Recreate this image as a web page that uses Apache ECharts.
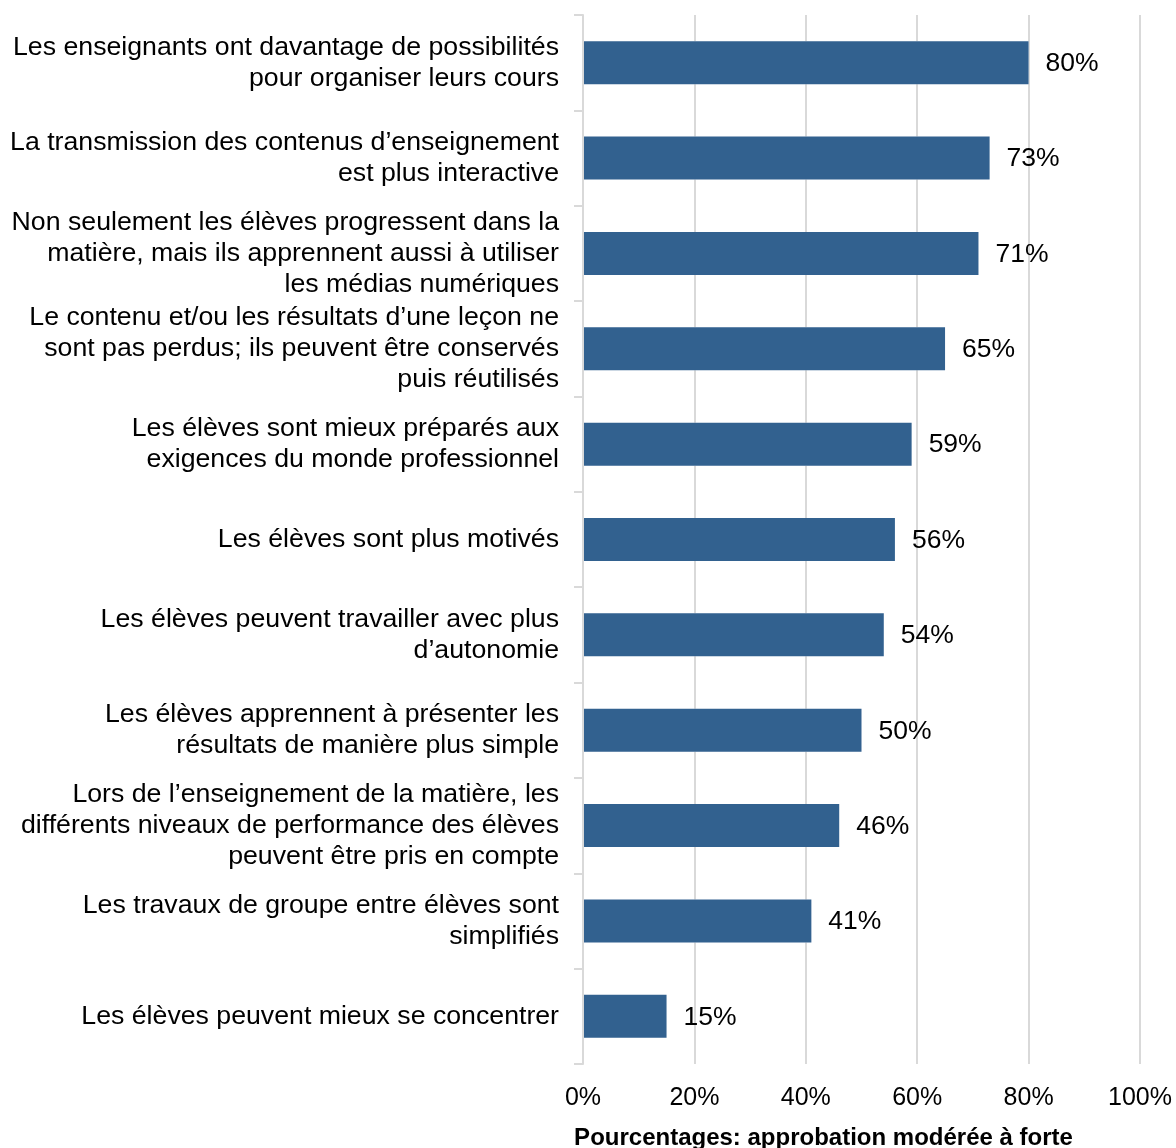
<!DOCTYPE html>
<html lang="fr">
<head>
<meta charset="utf-8">
<title>Avantages des médias numériques en classe</title>
<script src="https://cdn.jsdelivr.net/npm/echarts@6/dist/echarts.min.js"></script>
<style>
  html, body { margin: 0; padding: 0; background: #fff; }
  #chart { width: 1176px; height: 1148px; }
</style>
</head>
<body>
<div id="chart"></div>
<script>
// Affirmations proposées aux enseignants (de haut en bas)
const categories = [
  'Les enseignants ont davantage de possibilités\npour organiser leurs cours',
  'La transmission des contenus d’enseignement\nest plus interactive',
  'Non seulement les élèves progressent dans la\nmatière, mais ils apprennent aussi à utiliser\nles médias numériques',
  'Le contenu et/ou les résultats d’une leçon ne\nsont pas perdus; ils peuvent être conservés\npuis réutilisés',
  'Les élèves sont mieux préparés aux\nexigences du monde professionnel',
  'Les élèves sont plus motivés',
  'Les élèves peuvent travailler avec plus\nd’autonomie',
  'Les élèves apprennent à présenter les\nrésultats de manière plus simple',
  'Lors de l’enseignement de la matière, les\ndifférents niveaux de performance des élèves\npeuvent être pris en compte',
  'Les travaux de groupe entre élèves sont\nsimplifiés',
  'Les élèves peuvent mieux se concentrer'
];

// Part d'approbation modérée à forte, en %
const approval = [80, 73, 71, 65, 59, 56, 54, 50, 46, 41, 15];

// Graduations de l'axe horizontal
const axisMin = 0;
const axisMax = 100;
const axisStep = 20;
const axisTitle = 'Pourcentages: approbation modérée à forte';

const FONT = "'Liberation Sans', Arial, Helvetica, sans-serif";
const GRID_GREY = '#d9d9d9';
const BAR_BLUE = '#32618f';

const chart = echarts.init(document.getElementById('chart'), null, { renderer: 'canvas' });

chart.setOption({
  animation: false,
  backgroundColor: '#ffffff',
  grid: {
    left: 583,
    right: 36,
    top: 15,
    bottom: 84,
    containLabel: false,
    outerBoundsMode: 'none'
  },
  xAxis: {
    type: 'value',
    min: axisMin,
    max: axisMax,
    interval: axisStep,
    z: 0,
    axisLine: { show: false },
    axisTick: { show: false },
    splitLine: { show: true, lineStyle: { color: GRID_GREY, width: 2 } },
    axisLabel: {
      formatter: '{value}%',
      color: '#000',
      fontFamily: FONT,
      fontSize: 25,
      margin: 22
    },
    name: axisTitle,
    nameLocation: 'middle',
    nameGap: 62,
    nameTextStyle: {
      color: '#000',
      fontFamily: FONT,
      fontSize: 24,
      fontWeight: 'bold',
      padding: [0, 76, 0, 0]
    }
  },
  yAxis: {
    type: 'category',
    data: categories,
    inverse: true,
    z: 5,
    axisLine: { show: true, lineStyle: { color: GRID_GREY, width: 2 } },
    axisTick: { show: true, length: 9, lineStyle: { color: GRID_GREY, width: 2 } },
    splitLine: { show: false },
    axisLabel: {
      color: '#000',
      fontFamily: FONT,
      fontSize: 26.7,
      lineHeight: 31,
      align: 'right',
      margin: 24
    }
  },
  series: [
    {
      // white halo that interrupts the gridlines around each bar
      name: 'halo',
      type: 'bar',
      data: approval,
      barWidth: 43,
      barGap: '-100%',
      silent: true,
      z: 2,
      itemStyle: { color: '#ffffff', borderColor: '#ffffff', borderWidth: 10 },
      label: { show: false }
    },
    {
      name: 'Approbation',
      type: 'bar',
      data: approval,
      barWidth: 43,
      barGap: '-100%',
      z: 3,
      itemStyle: { color: BAR_BLUE },
      label: {
        show: true,
        position: 'right',
        distance: 17,
        offset: [0, 1],
        formatter: '{c}%',
        color: '#000',
        fontFamily: FONT,
        fontSize: 26.5
      }
    }
  ]
});
</script>
</body>
</html>
